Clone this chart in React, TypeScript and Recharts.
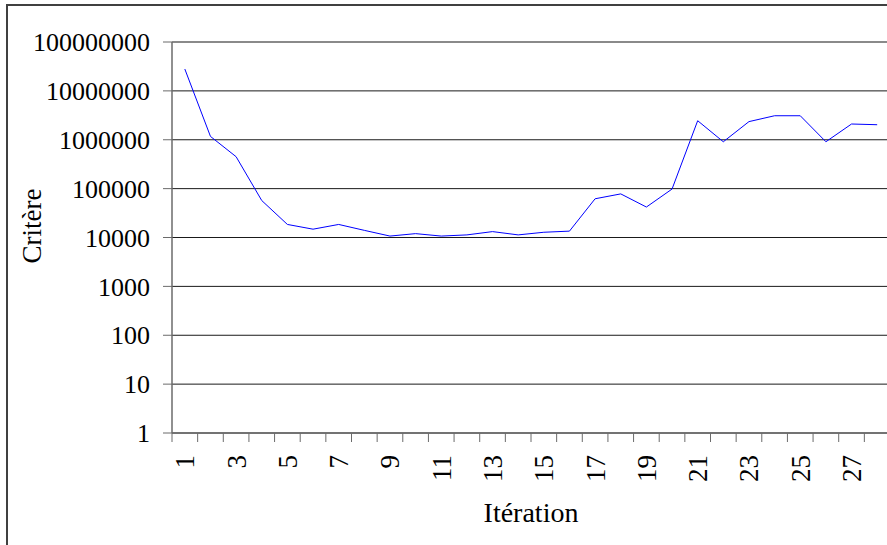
import { LineChart, Line, XAxis, YAxis, CartesianGrid, ReferenceLine } from 'recharts';

const ITERATIONS = [1, 2, 3, 4, 5, 6, 7, 8, 9, 10, 11, 12, 13, 14, 15, 16, 17, 18, 19, 20, 21, 22, 23, 24, 25, 26, 27, 28];
const CRITERE = [
  28000000, 1170000, 450000, 57000, 18500, 14800, 18500, 14000, 10700, 12000,
  10700, 11300, 13200, 11300, 12800, 13500, 62000, 78000, 42000, 98000,
  2450000, 910000, 2350000, 3100000, 3100000, 910000, 2100000, 2030000,
];
const Y_TICKS = [1, 10, 100, 1000, 10000, 100000, 1000000, 10000000, 100000000];

const data = ITERATIONS.map((it, i) => ({ it, critere: CRITERE[i] }));

const FONT = "'Liberation Serif', 'Times New Roman', serif";
const AXIS_GREY = '#6b6b6b';

// category labels: only odd iterations get a label, tick marks sit on band edges
function IterTick({ x, y, payload }: any) {
  const half = payload?.offset ?? 0;
  const v = payload.value;
  const ty = y + 22;
  return (
    <g>
      <line x1={x - half} x2={x - half} y1={y} y2={y + 9} stroke={AXIS_GREY} />
      {v % 2 === 1 && (
        <text
          x={x}
          y={ty}
          dy="0.35em"
          textAnchor="end"
          transform={`rotate(-90 ${x} ${ty})`}
          fontFamily={FONT}
          fontSize={27}
          fill="#000"
        >
          {v}
        </text>
      )}
    </g>
  );
}

export default function App() {
  return (
    <div style={{ position: 'fixed', left: 0, top: 0, width: 887, height: 545, overflow: 'hidden', background: '#fff' }}>
      {/* outer chart frame, clipped on right and bottom */}
      <div
        style={{
          position: 'absolute',
          left: 6,
          top: 4,
          width: 1000,
          height: 1000,
          borderLeft: '2px solid #404040',
          borderTop: '2px solid #404040',
        }}
      />
      <div style={{ position: 'absolute', left: 0, top: 0 }}>
        <LineChart width={900} height={545} data={data} margin={{ top: 42, right: 10, left: 0, bottom: 0 }}>
          <CartesianGrid vertical={false} stroke="#1a1a1a" />
          <XAxis
            dataKey="it"
            type="category"
            scale="band"
            height={112}
            interval={0}
            tickSize={0}
            tickMargin={0}
            tickLine={false}
            axisLine={{ stroke: AXIS_GREY, strokeWidth: 1.5 }}
            tick={<IterTick />}
          />
          <YAxis
            scale="log"
            domain={[1, 100000000]}
            ticks={Y_TICKS}
            allowDataOverflow
            interval={0}
            width={172}
            tickSize={9}
            tickMargin={13}
            tickLine={{ stroke: AXIS_GREY }}
            axisLine={{ stroke: AXIS_GREY, strokeWidth: 1.5 }}
            tick={{ fontFamily: FONT, fontSize: 26, fill: '#000' }}
            tickFormatter={(v: number) => String(v)}
          />
          <ReferenceLine y={100000000} stroke="#8a8a8a" strokeWidth={1.5} />
          <Line
            type="linear"
            dataKey="critere"
            stroke="#0000ff"
            strokeWidth={1}
            dot={false}
            isAnimationActive={false}
          />
        </LineChart>
      </div>
      <svg width={887} height={545} style={{ position: 'absolute', left: 0, top: 0, pointerEvents: 'none' }}>
        <text
          x={41}
          y={226}
          textAnchor="middle"
          transform="rotate(-90 41 226)"
          fontFamily={FONT}
          fontSize={27}
          fill="#000"
        >
          Critère
        </text>
        <text x={531} y={522} textAnchor="middle" fontFamily={FONT} fontSize={28} fill="#000">
          Itération
        </text>
      </svg>
    </div>
  );
}
